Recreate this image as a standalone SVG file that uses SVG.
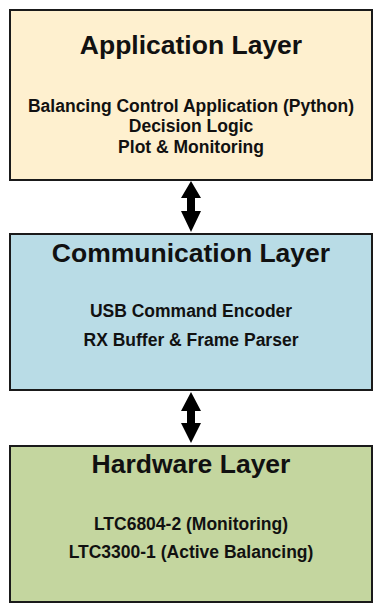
<svg xmlns="http://www.w3.org/2000/svg" width="381" height="610" viewBox="0 0 381 610">
<style>
.box{stroke:#1a1a1a;stroke-width:2}
.title{font-family:"Liberation Sans",Arial,sans-serif;font-weight:bold;font-size:26.5px;fill:#111;text-anchor:middle}
.body{font-family:"Liberation Sans",Arial,sans-serif;font-weight:bold;font-size:17.5px;fill:#111;text-anchor:middle}
.arrow{fill:#000}
</style>
<rect width="381" height="610" fill="#fff"/>
<g id="app">
<rect class="box" x="10" y="10" width="362" height="170" fill="#FEF0CF"/>
<text class="title" x="191" y="54">Application Layer</text>
<text class="body" x="191" y="112">Balancing Control Application (Python)</text>
<text class="body" x="191" y="132">Decision Logic</text>
<text class="body" x="191" y="153">Plot &amp; Monitoring</text>
</g>
<g id="comm">
<rect class="box" x="10" y="234" width="362" height="156" fill="#B9DCE6"/>
<text class="title" x="191" y="261.5">Communication Layer</text>
<text class="body" x="191" y="317">USB Command Encoder</text>
<text class="body" x="191" y="346">RX Buffer &amp; Frame Parser</text>
</g>
<g id="hw">
<rect class="box" x="10" y="446" width="362" height="156" fill="#C4D69F"/>
<text class="title" x="191" y="472.5">Hardware Layer</text>
<text class="body" x="191" y="530">LTC6804-2 (Monitoring)</text>
<text class="body" x="191" y="558">LTC3300-1 (Active Balancing)</text>
</g>
<g id="connectors">
<polygon class="arrow" points="191,181 181,198 187,198 187,211 181,211 191,232 201,211 195,211 195,198 201,198"/>
<polygon class="arrow" points="191,392 181,411 187,411 187,423 181,423 191,443 201,423 195,423 195,411 201,411"/>
</g>
</svg>
